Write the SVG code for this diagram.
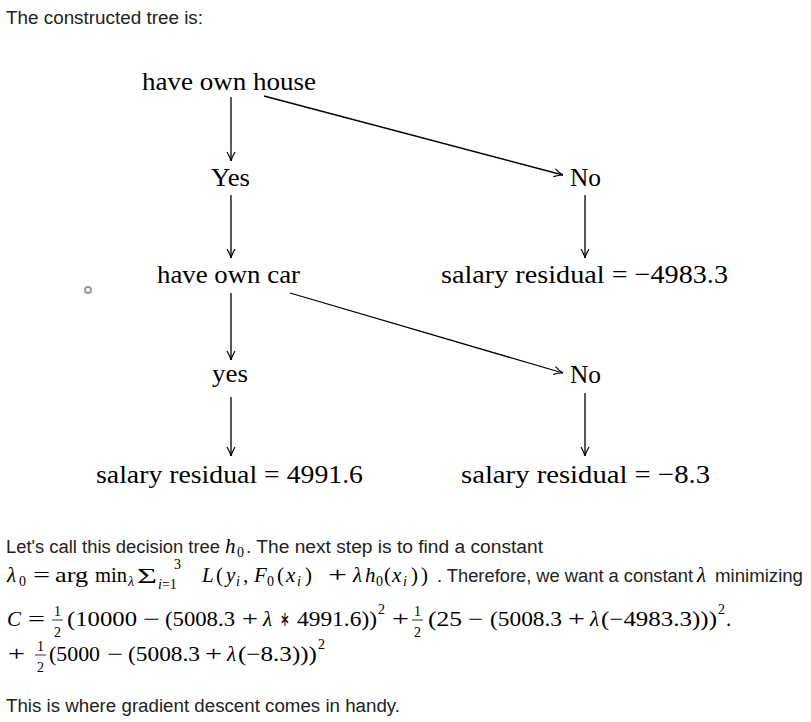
<svg xmlns="http://www.w3.org/2000/svg" width="811" height="722" viewBox="0 0 811 722">
<style>
.b{font-family:"Liberation Sans",Arial,sans-serif;font-size:18px;fill:#222}
.t{font-family:"Liberation Serif","Times New Roman",serif;font-size:26px;fill:#000}
.m{font-family:"Liberation Serif","Times New Roman",serif;font-size:21px;fill:#000}
.i{font-style:italic}
.s{font-family:"Liberation Serif","Times New Roman",serif;font-size:14px;fill:#000}
.e{stroke:#000;stroke-width:1.3;fill:none;marker-end:url(#ah)}
</style>
<defs>
<marker id="ah" viewBox="0 0 10 10" refX="10" refY="5" markerWidth="10" markerHeight="10" markerUnits="userSpaceOnUse" orient="auto">
<path d="M1,1 Q6,4 10,5 Q6,6 1,9" fill="none" stroke="#000" stroke-width="1.2"/>
</marker>
</defs>
<rect width="811" height="722" fill="#fff"/>
<text class="b" x="6" y="24" textLength="197" lengthAdjust="spacingAndGlyphs">The constructed tree is:</text>
<g id="connectors">
<line class="e" x1="231" y1="97" x2="231" y2="161"/>
<line class="e" x1="264" y1="96" x2="563" y2="175"/>
<line class="e" x1="231" y1="195" x2="231" y2="258"/>
<line class="e" x1="585" y1="195" x2="585" y2="258"/>
<line class="e" x1="231" y1="293" x2="231" y2="360"/>
<line class="e" x1="290" y1="293" x2="563" y2="373"/>
<line class="e" x1="231" y1="397" x2="231" y2="456"/>
<line class="e" x1="585" y1="393" x2="585" y2="456"/>
</g>
<g id="n_house"><text class="t" x="142" y="90" textLength="174" lengthAdjust="spacingAndGlyphs">have own house</text></g>
<g id="n_yes1"><text class="t" x="211" y="186" textLength="39" lengthAdjust="spacingAndGlyphs">Yes</text></g>
<g id="n_no1"><text class="t" x="570" y="186" textLength="31" lengthAdjust="spacingAndGlyphs">No</text></g>
<g id="n_car"><text class="t" x="157" y="283" textLength="143" lengthAdjust="spacingAndGlyphs">have own car</text></g>
<g id="n_res1"><text class="t" x="441" y="283" textLength="287" lengthAdjust="spacingAndGlyphs">salary residual = −4983.3</text></g>
<g id="n_yes2"><text class="t" x="212" y="382" textLength="36" lengthAdjust="spacingAndGlyphs">yes</text></g>
<g id="n_no2"><text class="t" x="570" y="383" textLength="31" lengthAdjust="spacingAndGlyphs">No</text></g>
<g id="n_res2"><text class="t" x="96" y="483" textLength="267" lengthAdjust="spacingAndGlyphs">salary residual = 4991.6</text></g>
<g id="n_res3"><text class="t" x="461" y="483" textLength="249" lengthAdjust="spacingAndGlyphs">salary residual = −8.3</text></g>
<circle cx="88" cy="290" r="3" fill="none" stroke="#9a9a9a" stroke-width="2"/>

<text class="b" x="6" y="553" textLength="214" lengthAdjust="spacingAndGlyphs">Let's call this decision tree</text>
<text class="m i" x="225" y="553">h</text>
<text class="s" x="237" y="557">0</text>
<text class="b" x="246" y="553" textLength="297" lengthAdjust="spacingAndGlyphs">. The next step is to find a constant</text>

<text class="m i" x="7" y="582">λ</text>
<text class="s" x="19" y="586">0</text>
<text class="m" x="33" y="582" textLength="17" lengthAdjust="spacingAndGlyphs">=</text>
<text class="m" x="55" y="582" textLength="33" lengthAdjust="spacingAndGlyphs">arg</text>
<text class="m" x="95" y="582" textLength="32" lengthAdjust="spacingAndGlyphs">min</text>
<text class="s i" x="128" y="586" font-size="12">λ</text>
<text class="m" x="137" y="583" textLength="20" lengthAdjust="spacingAndGlyphs">Σ</text>
<text class="s" x="174" y="569">3</text>
<text class="s" x="158" y="589"><tspan class="i">i</tspan>=1</text>
<text class="m i" x="202" y="582">L</text>
<text class="m" x="216" y="582">(</text>
<text class="m i" x="226" y="582">y</text>
<text class="s i" x="236" y="586">i</text>
<text class="m" x="243" y="582">,</text>
<text class="m i" x="254" y="582">F</text>
<text class="s" x="267" y="586">0</text>
<text class="m" x="277" y="582">(</text>
<text class="m i" x="286" y="582">x</text>
<text class="s i" x="297" y="586">i</text>
<text class="m" x="305" y="582">)</text>
<text class="m" x="328" y="582" textLength="19" lengthAdjust="spacingAndGlyphs">+</text>
<text class="m i" x="353" y="582">λ</text>
<text class="m i" x="365" y="582">h</text>
<text class="s" x="376" y="586">0</text>
<text class="m" x="384" y="582">(</text>
<text class="m i" x="392" y="582">x</text>
<text class="s i" x="403" y="586">i</text>
<text class="m" x="411" y="582" letter-spacing="3">))</text>
<text class="b" x="437" y="582" textLength="256" lengthAdjust="spacingAndGlyphs">. Therefore, we want a constant</text>
<text class="m i" x="697" y="582">λ</text>
<text class="b" x="715" y="582" textLength="88" lengthAdjust="spacingAndGlyphs">minimizing</text>

<text class="m i" x="7" y="626">C</text>
<text class="m" x="28" y="626" textLength="17" lengthAdjust="spacingAndGlyphs">=</text>
<text class="s" x="54" y="616" font-size="12">1</text>
<line x1="52" y1="620" x2="63" y2="620" stroke="#000" stroke-width="0.8"/>
<text class="s" x="54" y="637" font-size="12">2</text>
<text class="m" x="67" y="626" textLength="70" lengthAdjust="spacingAndGlyphs">(10000</text>
<text class="m" x="143" y="626" textLength="17" lengthAdjust="spacingAndGlyphs">−</text>
<text class="m" x="165" y="626" textLength="70" lengthAdjust="spacingAndGlyphs">(5008.3</text>
<text class="m" x="242" y="626" textLength="16" lengthAdjust="spacingAndGlyphs">+</text>
<text class="m i" x="263" y="626">λ</text>
<text class="m" x="280" y="626" textLength="10" lengthAdjust="spacingAndGlyphs">∗</text>
<text class="m" x="297" y="626" textLength="80" lengthAdjust="spacingAndGlyphs">4991.6))</text>
<text class="s" x="378" y="614">2</text>
<text class="m" x="392" y="626" textLength="17" lengthAdjust="spacingAndGlyphs">+</text>
<text class="s" x="414" y="616" font-size="12">1</text>
<line x1="412" y1="620" x2="423" y2="620" stroke="#000" stroke-width="0.8"/>
<text class="s" x="414" y="637" font-size="12">2</text>
<text class="m" x="428" y="626" textLength="34" lengthAdjust="spacingAndGlyphs">(25</text>
<text class="m" x="468" y="626" textLength="15" lengthAdjust="spacingAndGlyphs">−</text>
<text class="m" x="490" y="626" textLength="72" lengthAdjust="spacingAndGlyphs">(5008.3</text>
<text class="m" x="568" y="626" textLength="17" lengthAdjust="spacingAndGlyphs">+</text>
<text class="m i" x="590" y="626">λ</text>
<text class="m" x="601" y="626" textLength="116" lengthAdjust="spacingAndGlyphs">(−4983.3)))</text>
<text class="s" x="718" y="614">2</text>
<text class="m" x="726" y="626">.</text>

<text class="m" x="8" y="661" textLength="17" lengthAdjust="spacingAndGlyphs">+</text>
<text class="s" x="37" y="651" font-size="12">1</text>
<line x1="35" y1="655" x2="46" y2="655" stroke="#000" stroke-width="0.8"/>
<text class="s" x="37" y="672" font-size="12">2</text>
<text class="m" x="49" y="661" textLength="51" lengthAdjust="spacingAndGlyphs">(5000</text>
<text class="m" x="107" y="661" textLength="16" lengthAdjust="spacingAndGlyphs">−</text>
<text class="m" x="128" y="661" textLength="72" lengthAdjust="spacingAndGlyphs">(5008.3</text>
<text class="m" x="205" y="661" textLength="17" lengthAdjust="spacingAndGlyphs">+</text>
<text class="m i" x="227" y="661">λ</text>
<text class="m" x="238" y="661" textLength="79" lengthAdjust="spacingAndGlyphs">(−8.3)))</text>
<text class="s" x="318" y="649">2</text>

<text class="b" x="6" y="712" textLength="394" lengthAdjust="spacingAndGlyphs">This is where gradient descent comes in handy.</text>
</svg>
